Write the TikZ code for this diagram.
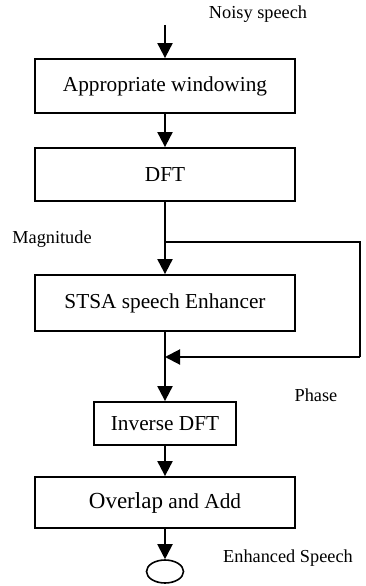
\documentclass[tikz,border=0pt]{standalone}
\usepackage{fontspec}
\setmainfont{Liberation Serif}
\usetikzlibrary{arrows.meta,shapes.geometric}
\begin{document}
\begin{tikzpicture}[x=1pt,y=-1pt,
  box/.style={draw,line width=1.8pt,minimum width=260pt,inner sep=0pt,font=\fontsize{21.3}{25}\selectfont},
  lbl/.style={font=\fontsize{18.3}{22}\selectfont,inner sep=0pt},
  conn/.style={line width=2pt,-{Triangle[length=15pt,width=15pt]}},
  thinline/.style={line width=1.4pt}]
\useasboundingbox (0,0) rectangle (365,586);
\node[box,minimum height=54pt] (win) at (165,86) {Appropriate windowing};
\node[box,minimum height=53pt] (dft) at (165,174.5) {DFT};
\node[box,minimum height=56pt] (stsa) at (165,303) {STSA speech Enhancer};
\node[box,minimum width=142pt,minimum height=43pt] (inv) at (165,423.5) {Inverse DFT};
\node[box,minimum height=51pt] (ola) at (165,502.5) {{\fontsize{23}{27}\selectfont Overlap} and Add};
\node[draw,ellipse,line width=1.6pt,minimum width=37pt,minimum height=23pt,inner sep=0pt] (out) at (165,571.5) {};
\coordinate (in) at (165,25);
\coordinate (br) at (165,242);
\coordinate (fb) at (165,357);
\coordinate (rt) at (360,300);
\node[lbl] (lnoisy) at (258,14) {Noisy speech};
\node[lbl] (lmag) at (52,239) {Magnitude};
\node[lbl] (lphase) at (316,395) {Phase};
\node[lbl] (lenh) at (288,558) {Enhanced Speech};
\draw[conn] (in) -- (win.north);
\draw[conn] (win.south) -- (dft.north);
\draw[conn] (dft.south) -- (stsa.north);
\draw[thinline] (br) -- (br -| rt) -- (fb -| rt);
\draw[line width=2pt,-{Triangle[length=15pt,width=15pt]}] (fb -| rt) -- (fb);
\draw[conn] (stsa.south) -- (inv.north);
\draw[conn] (inv.south) -- (ola.north);
\draw[conn] (ola.south) -- (out.north);
\end{tikzpicture}
\end{document}
